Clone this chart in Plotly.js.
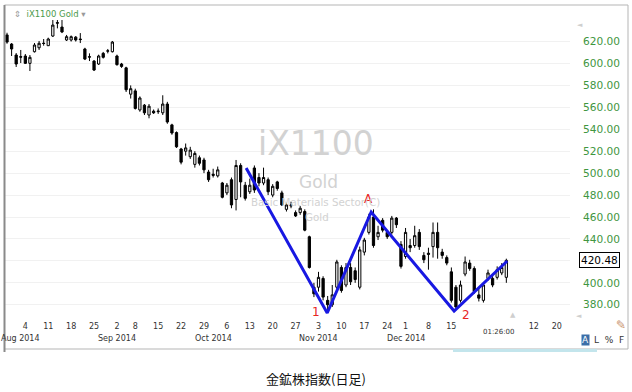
<!DOCTYPE html>
<html><head><meta charset="utf-8">
<script src="https://cdn.plot.ly/plotly-3.0.1.min.js"></script>
<style>html,body{margin:0;padding:0;background:#fff;} #chart{width:632px;height:392px;}</style>
</head><body><div id="chart"></div>
<script>
// Trading days (candles fill the first 110, the rest is empty future space)
const days = [
'2014-07-29','2014-07-30','2014-07-31','2014-08-01',
'2014-08-04','2014-08-05','2014-08-06','2014-08-07','2014-08-08',
'2014-08-11','2014-08-12','2014-08-13','2014-08-14','2014-08-15',
'2014-08-18','2014-08-19','2014-08-20','2014-08-21','2014-08-22',
'2014-08-25','2014-08-26','2014-08-27','2014-08-28','2014-08-29',
'2014-09-02','2014-09-03','2014-09-04','2014-09-05',
'2014-09-08','2014-09-09','2014-09-10','2014-09-11','2014-09-12',
'2014-09-15','2014-09-16','2014-09-17','2014-09-18','2014-09-19',
'2014-09-22','2014-09-23','2014-09-24','2014-09-25','2014-09-26',
'2014-09-29','2014-09-30','2014-10-01','2014-10-02','2014-10-03',
'2014-10-06','2014-10-07','2014-10-08','2014-10-09','2014-10-10',
'2014-10-13','2014-10-14','2014-10-15','2014-10-16','2014-10-17',
'2014-10-20','2014-10-21','2014-10-22','2014-10-23','2014-10-24',
'2014-10-27','2014-10-28','2014-10-29','2014-10-30','2014-10-31',
'2014-11-03','2014-11-04','2014-11-05','2014-11-06','2014-11-07',
'2014-11-10','2014-11-11','2014-11-12','2014-11-13','2014-11-14',
'2014-11-17','2014-11-18','2014-11-19','2014-11-20','2014-11-21',
'2014-11-24','2014-11-25','2014-11-26','2014-11-28',
'2014-12-01','2014-12-02','2014-12-03','2014-12-04','2014-12-05',
'2014-12-08','2014-12-09','2014-12-10','2014-12-11','2014-12-12',
'2014-12-15','2014-12-16','2014-12-17','2014-12-18','2014-12-19',
'2014-12-22','2014-12-23','2014-12-24','2014-12-26',
'2014-12-29','2014-12-30','2014-12-31','2015-01-02',
'2015-01-05','2015-01-06','2015-01-07','2015-01-08','2015-01-09',
'2015-01-12','2015-01-13','2015-01-14','2015-01-15','2015-01-16',
'2015-01-20','2015-01-21','2015-01-22','2015-01-23'
];

const openP = [626,617.7,607.7,606.2,606.8,600.1,610.7,614.3,618.5,616.2,
625,637.2,633.2,621.4,621.4,624,622.3,613.2,606.2,602.2,
599.5,609.2,611.2,610.7,606.8,599.5,596,572,575,557.6,
562,553,556.5,556,555,563,544,537,522,520,
515,508,514,512,501,499,497.5,491,482,494,
476,507,489,483,504.7,496,491,494,480,492,
482,467,470,464,464,465,442,396,396,404,
384,380,396,414,398,414,411,396,428,446,
460,442,457,446,446,459,435,424,434,434,
446,425,427,433,446,428,423,410,396,384,
408,418,413,389,384,404,404,405,409,405];
const highP = [628,618.6,609.5,612.3,608.6,607.7,618.6,620.5,622.3,623.5,
639.6,639.6,639.6,626,625.5,625,627.7,614.3,609.2,603.1,
608,610.5,613.2,620.5,608,600.5,597,580,577,570,
563,563,558,559,571,565,545,538,523,527,
524,520,516,514,503,504,506,492,491,496,
512,509,492,495,507,500,505,496,490,493,
484,473,474,466,470,467,443,400,410,406,
388,398,421,416,418,418,414,433,441,463,
467,452,459,448,461,460,438,450,440,452,
449,428,432,455,455,431,425,414,398,402,
424,421,415,395,400,412,408,415,418,422];
const lowP = [618,606.8,596.8,600.4,599.5,593.1,610,612.3,616.2,615.9,
624.1,632,627.7,620.5,620,620,618.6,603.1,602.2,593.1,
598.6,604.5,609.2,610,598,596,574,568,558,556,
553,550,554,554,553,545,535,523,508,516,
513,505,507,500,492,496,496,477,480,468,
466,478,475,481,482,488,489,480,478,484,
470,465,468,460,462,447,413,387,392,384,
374,378,394,391,396,398,400,394,425,444,
432,439,446,440,444,450,413,422,428,432,
430,418,412,423,422,422,416,382,376,382,
406,411,390,383,382,402,396,403,407,400];
const closeP = [619.5,613.2,599.5,605.8,600.1,605.6,616.8,618.4,618.2,622.3,
635,636.8,628.7,624.4,624.4,621.4,621.8,604,605.8,594,
606.8,605.6,611.5,619.5,598.9,597.3,576,577,559,568.5,
555,561,555,556.5,563,546.6,536.6,524,510,523,
521,518,509,503,494,498,503,478,489,471,
507,492,477,489,484.6,491,496,483,488,486,
471,471,471,461,468,448,414,390,405,387,
380,389,419,393,414,401,403,430,439,460,
434,446,448,442,459,453,415,446,432,443,
433,421,426,446,432,425,418,384,378,398,
419,413,392,386,398,409,398,412,414,420.48];

// Axis labels
const tickDays = ['2014-08-04','2014-08-11','2014-08-18','2014-08-25','2014-09-02','2014-09-08','2014-09-15','2014-09-22','2014-09-29','2014-10-06','2014-10-13','2014-10-20','2014-10-27','2014-11-03','2014-11-10','2014-11-17','2014-11-24','2014-12-01','2014-12-08','2014-12-15','2015-01-12','2015-01-20'];
const tickText = ['4','11','18','25','2','8','15','22','29','6','13','20','27','3','10','17','24','1','8','15','12','20'];
const monthDays = ['2014-08-01','2014-09-02','2014-10-01','2014-11-03','2014-12-01'];
const monthText = ['Aug 2014','Sep 2014','Oct 2014','Nov 2014','Dec 2014'];
const yTicks = [380,400,420,440,460,480,500,520,540,560,580,600,620];
const lastPrice = 420.48;

// Wave drawing (positions in trading-day units)
const wavePos = [52.2,69.9,79.5,97.6,109.2];
const waveVal = [504.7,372.5,464.6,374.3,419.9];
const waveLabelText = ['1','A','2'];
const waveLabelPos = [67.5,79.0,100.2];
const waveLabelVal = [373.4,476.5,370.6];

const idx = d => days.indexOf(d);
const candleX = openP.map((_, i) => i);

const F = 'DejaVu Sans, Verdana, sans-serif';
const W = 565, H = 315, L = 5, T = 5;
const px = x => (x - L) / W;
const py = y => (T + H - y) / H;
const C = {xanchor:'center', yanchor:'middle', showarrow:false};

const annotations = [];
monthDays.forEach((d, i) => annotations.push({...C, xref:'x', yref:'paper', x: idx(d), y: py(338), text: monthText[i], font:{family:F, size:8, color:'#333'}}));
waveLabelText.forEach((t, i) => annotations.push({...C, xref:'x', yref:'y', x: waveLabelPos[i], y: waveLabelVal[i], text: t, font:{family:F, size:12, color:'#e8261f'}}));
annotations.push(
 {...C, xref:'paper', yref:'paper', x: px(316), y: py(143), text:'iX1100', font:{family:F, size:33, color:'#d2d2d2'}},
 {...C, xref:'paper', yref:'paper', x: px(318), y: py(182), text:'Gold', font:{family:F, size:17, color:'#d2d2d2'}},
 {...C, xref:'paper', yref:'paper', x: px(315), y: py(202), text:'Basic Materials Sector(C)', font:{family:F, size:10.3, color:'#d2d2d2'}},
 {...C, xref:'paper', yref:'paper', x: px(317), y: py(216.5), text:'Gold', font:{family:F, size:10.3, color:'#d2d2d2'}},
 {...C, xref:'paper', yref:'paper', x: px(12), y: py(14), xanchor:'left', text:'<span style="color:#999">⇕</span>  iX1100 Gold <span style="color:#999">▾</span>', font:{family:F, size:8.5, color:'#4c9a4c'}},
 {...C, xref:'paper', yref:'y', x: px(579), y: lastPrice, xanchor:'left', text: lastPrice.toFixed(2), bordercolor:'#000', borderwidth:1, borderpad:1, bgcolor:'#fff', font:{family:F, size:10.5, color:'#000'}},
 {...C, xref:'x', yref:'paper', x: 107.2, y: py(332), text:'01:26:00', font:{family:F, size:7, color:'#333'}},
 {...C, xref:'paper', yref:'paper', x: px(513), y: py(315), text:'▲', font:{family:F, size:7, color:'#cfcfcf'}},
 {...C, xref:'paper', yref:'paper', x: px(579), y: py(316), text:'◄', font:{family:F, size:7, color:'#cfcfcf'}},
 {...C, xref:'paper', yref:'paper', x: px(580), y: py(25), text:'◄', font:{family:F, size:7, color:'#cfcfcf'}},
 {...C, xref:'paper', yref:'paper', x: px(585.5), y: py(340), text:'A', bgcolor:'#3b6ea8', borderpad:0, font:{family:F, size:9, color:'#fff'}},
 {...C, xref:'paper', yref:'paper', x: px(592), y: py(340), xanchor:'left', text:'L  %  F', font:{family:F, size:9, color:'#333'}},
 {...C, xref:'paper', yref:'paper', x: px(621), y: py(325), text:'✎', font:{family:F, size:12, color:'#c8906a'}},
 {...C, xref:'paper', yref:'paper', x: px(316), y: py(378), text:'金鉱株指数(日足)', font:{family:'Noto Sans CJK JP, sans-serif', size:13, color:'#111'}}
);

const data = [
 {type:'candlestick', x: candleX, open: openP, high: highP, low: lowP, close: closeP,
  increasing:{line:{color:'#000', width:1}, fillcolor:'#fff'},
  decreasing:{line:{color:'#000', width:1}, fillcolor:'#000'},
  whiskerwidth:0, hoverinfo:'skip'},
 {type:'scatter', mode:'lines', x: wavePos, y: waveVal, line:{color:'#1818e2', width:3}, hoverinfo:'skip'}
];

const layout = {
 width:632, height:392, margin:{l:L, r:632-L-W, t:T, b:392-T-H},
 paper_bgcolor:'#fff', plot_bgcolor:'#fff', showlegend:false, hovermode:false, boxgap:0.3,
 xaxis:{range:[-0.44, 122.9], rangeslider:{visible:false}, showgrid:false, zeroline:false, showline:false, ticks:'',
  tickmode:'array', tickvals: tickDays.map(idx), ticktext: tickText, tickangle:0,
  tickfont:{family:F, size:8, color:'#333'}},
 yaxis:{range:[366.1, 653.3], side:'right', showgrid:true, gridcolor:'#f1f1f1', zeroline:false, showline:false, ticks:'',
  tickmode:'array', tickvals: yTicks, ticktext: yTicks.map(v => v === 420 ? '' : v.toFixed(2)),
  ticklabelstandoff: 12, tickfont:{family:F, size:10.6, color:'#3f963f'}},
 shapes:[
  {type:'rect', xref:'paper', yref:'paper', x0: px(4.5), x1: px(628), y0: py(349), y1: py(5), line:{color:'#b5b5b5', width:1}},
  {type:'line', xref:'paper', yref:'paper', x0: px(4.5), x1: px(4.5), y0: py(352), y1: py(5), line:{color:'#8a8a8a', width:2}},
  {type:'rect', xref:'paper', yref:'paper', x0: px(453), x1: px(597), y0: py(352), y1: py(349), fillcolor:'#c3e5ec', line:{width:0}}
 ],
 annotations: annotations
};

Plotly.newPlot('chart', data, layout, {displayModeBar:false, staticPlot:true});
</script>
</body></html>
